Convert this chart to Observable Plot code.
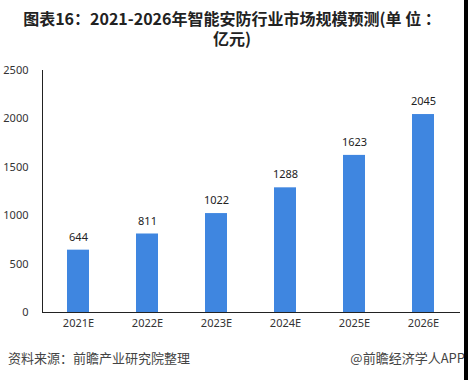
<!DOCTYPE html>
<html>
<head>
<meta charset="utf-8">
<script src="https://cdn.jsdelivr.net/npm/d3@7"></script>
<script src="https://cdn.jsdelivr.net/npm/@observablehq/plot@0.6"></script>
<style>
  html, body { margin: 0; padding: 0; background: #fff; }
  #wrap { position: relative; width: 468px; height: 380px; overflow: hidden; font-family: "Noto Sans CJK SC", "Noto Sans", sans-serif; }
  #title { position: absolute; left: 0; top: 8px; width: 464px; text-align: center; font-size: 16px; font-weight: bold; color: #222; line-height: 20px; }
  #chart { position: absolute; left: 0; top: 50px; }
  #src { position: absolute; left: 8px; top: 348px; font-size: 13px; color: #444; }
  #brand { position: absolute; right: 3px; top: 348px; font-size: 13px; color: #444; }
  #strip { position: absolute; right: 0; top: 0; width: 4px; height: 380px; background: #000; }
</style>
</head>
<body>
<div id="wrap">
  <div id="title">图表16：2021-2026年智能安防行业市场规模预测(单 位 ：<br>亿元)</div>
  <div id="chart"></div>
  <div id="src">资料来源：前瞻产业研究院整理</div>
  <div id="brand">@前瞻经济学人APP</div>
  <div id="strip"></div>
</div>
<script>
const years = ["2021E", "2022E", "2023E", "2024E", "2025E", "2026E"];
const values = [644, 811, 1022, 1288, 1623, 2045];
const yTicks = [0, 500, 1000, 1500, 2000, 2500];

const data = years.map((y, i) => ({ year: y, value: values[i] }));

const chart = Plot.plot({
  width: 468,
  height: 285,
  marginTop: 20,
  marginBottom: 23,
  marginLeft: 42,
  marginRight: 8,
  style: { fontFamily: "'Noto Sans', 'Noto Sans CJK SC', sans-serif", fontSize: "11px", color: "#333", background: "transparent" },
  x: { domain: years, paddingInner: 0.68, paddingOuter: 0.34, label: null, tickSize: 0, tickPadding: 7 },
  y: { domain: [0, 2500], ticks: yTicks, tickFormat: d => String(d), label: null, tickSize: 0, tickPadding: 14 },
  marks: [
    Plot.barY(data, { x: "year", y: "value", fill: "#3f86e0" }),
    Plot.text(data, { x: "year", y: "value", text: d => String(d.value), dy: -13, fill: "#222", fontSize: 11 }),
    Plot.ruleY([0], { stroke: "#222" }),
    Plot.frame({ anchor: "left", stroke: "#222" })
  ]
});
document.getElementById("chart").appendChild(chart);
</script>
</body>
</html>
